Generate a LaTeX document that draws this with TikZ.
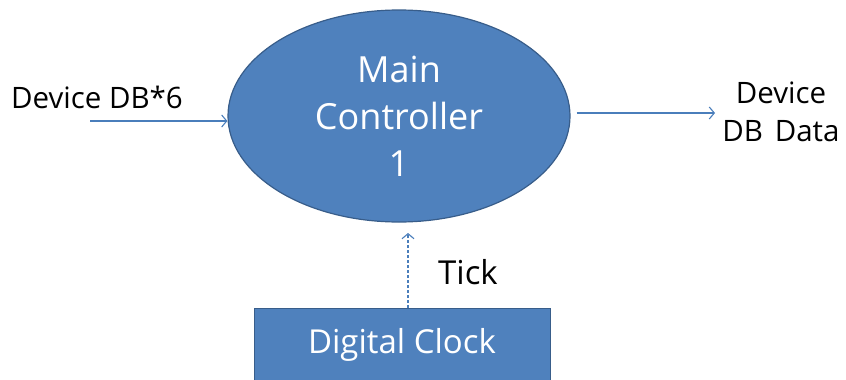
\documentclass[tikz,border=0pt]{standalone}
\usepackage{fontspec}
\setmainfont{Open Sans}
\usetikzlibrary{arrows.meta,shapes.geometric}
\definecolor{fillblue}{HTML}{4F81BD}
\definecolor{edgeblue}{HTML}{385D8A}
\definecolor{arrblue}{HTML}{4A7EBB}
\tikzset{
  proc/.style={ellipse,fill=fillblue,draw=edgeblue,line width=1.2pt,minimum width=342pt,minimum height=212pt,inner sep=0pt,text=white,align=center,font=\fontsize{36}{47}\selectfont},
  ext/.style={rectangle,fill=fillblue,draw=edgeblue,line width=1.2pt,minimum width=296pt,minimum height=76pt,inner sep=0pt},
  flow/.style={draw=arrblue,line width=1.1pt,-{Straight Barb[length=5pt,width=12pt]}},
  lbl/.style={inner sep=0pt,text=black,align=center,font=\fontsize{29.5}{38}\selectfont}
}
\begin{document}
\begin{tikzpicture}[x=1pt,y=-1pt]
\useasboundingbox (0,0) rectangle (846,380);
\node[proc] (mc) at (399,116) {Main\\Controller\\1};
\node[ext,anchor=north west] (clk) at (254,308) {};
\node[text=white,font=\fontsize{33}{40}\selectfont] (clktxt) at (402,345) {Digital Clock};
\coordinate (inL) at (90,121);
\coordinate (outR) at (715,113);
\node[lbl] (l1) at (97,97) {Device DB*6};
\node[lbl] (l2) at (781,112) {Device\\DB\hspace{0.4em}Data};
\node[lbl,font=\fontsize{33}{40}\selectfont] (tick) at (468,272) {Tick};
\draw[flow] (inL) -- (inL -| mc.west);
\draw[flow] (outR -| mc.east) ++(6,0) -- (outR);
\draw[flow,dashed,dash pattern=on 3pt off 2pt] (clk.north -| 408,0) -- (408,233);
\end{tikzpicture}
\end{document}
